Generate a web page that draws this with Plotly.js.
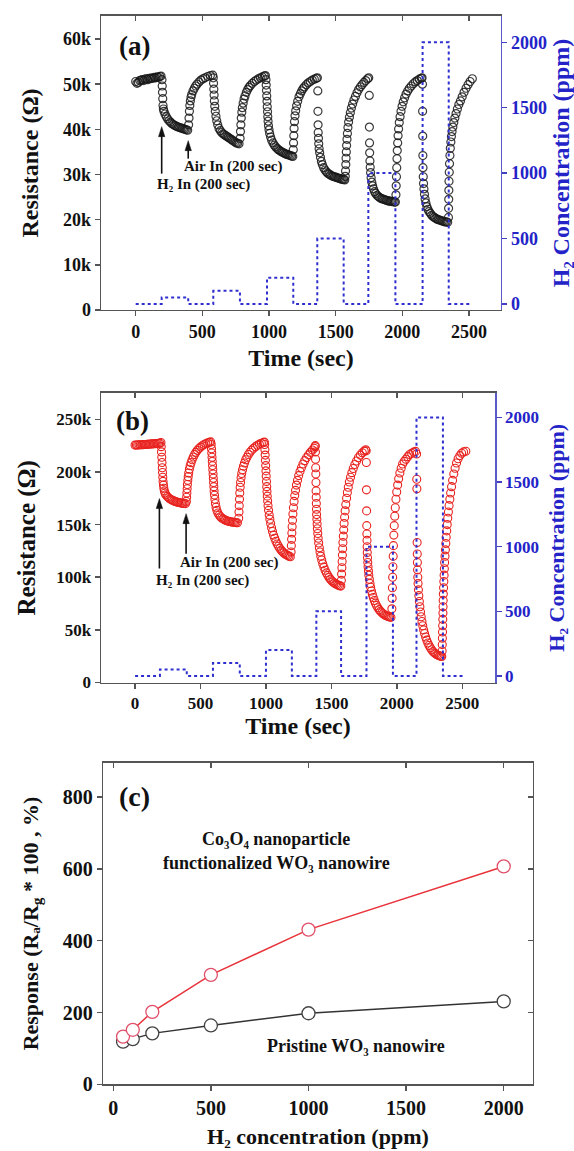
<!DOCTYPE html>
<html>
<head>
<meta charset="utf-8">
<script src="https://cdn.plot.ly/plotly-3.0.1.min.js"></script>
<style>html,body{margin:0;padding:0;background:#fff;}#chart{width:574px;height:1151px;}</style>
</head>
<body>
<div id="chart"></div>
<script>
// ---------- Panel (a): pristine WO3 nanowire, resistance (kOhm) vs time (s) ----------
const timeA = [
  0,10,20,30,40,50,60,70,80,90,100,110,120,130,140,150,160,170,180,190,
  197,199,201,203,205,208,212,220,230,240,250,260,270,280,290,300,310,320,330,340,350,360,370,380,390,
  397,400,403,406,410,415,420,430,440,450,460,475,490,505,520,540,560,578,
  582,584,586,588,590,593,597,602,608,615,625,635,645,655,665,675,685,695,705,715,725,735,745,755,765,775,
  783,786,789,792,796,800,806,813,820,830,840,850,860,875,890,905,920,935,950,965,973,
  977,979,981,983,985,987,989,991,993,996,1000,1005,1012,1020,1030,1040,1050,1060,1070,1080,1090,1100,1110,1120,1130,1140,1150,1160,1170,1178,
  1182,1184,1186,1188,1191,1195,1200,1207,1215,1225,1235,1245,1255,1265,1280,1295,1310,1325,1340,1355,1363,
  1366,1367,1368,1369,1371,1373,1376,1380,1386,1393,1400,1410,1420,1430,1440,1450,1460,1470,1480,1490,1500,1510,1520,1530,1540,1550,1560,1568,
  1572,1574,1576,1578,1580,1582,1585,1588,1592,1597,1603,1610,1618,1627,1637,1648,1660,1672,1685,1698,1712,1726,1740,1748,
  1752,1753,1754,1755,1757,1759,1762,1766,1771,1777,1784,1792,1800,1810,1820,1830,1840,1850,1860,1870,1880,1890,1900,1910,1920,1930,1940,1948,
  1952,1954,1956,1958,1960,1962,1965,1968,1972,1977,1983,1990,1998,2007,2017,2028,2040,2053,2067,2082,2097,2112,2127,2142,2148,
  2151,2152,2153,2154,2155,2157,2159,2162,2166,2171,2177,2184,2192,2200,2210,2220,2230,2240,2250,2260,2270,2280,2290,2300,2310,2320,2330,2340,
  2346,2347,2348,2349,2350,2352,2354,2357,2360,2364,2368,2373,2379,2386,2394,2403,2413,2424,2436,2449,2463,2478,2493,2508,2525
];
const resistA = [
  50.6,50.2,50.4,50.8,50.9,51.0,50.8,51.1,51.2,51.0,51.3,51.2,51.4,51.3,51.5,51.4,51.6,51.5,51.7,51.8,
  51.0,49.6,48.2,46.8,45.3,44.5,44.0,43.4,42.8,42.3,41.9,41.6,41.3,41.1,40.9,40.8,40.6,40.5,40.4,40.3,40.2,40.1,40.0,39.9,39.8,
  41.0,42.5,44.0,45.3,46.3,47.1,47.7,48.5,49.1,49.6,50.0,50.5,50.9,51.2,51.4,51.7,51.9,52.0,
  51.4,50.2,48.9,47.6,46.3,45.1,44.0,42.9,41.9,41.0,40.2,39.7,39.3,39.0,38.8,38.6,38.4,38.2,38.0,37.8,37.6,37.4,37.2,37.0,36.9,36.8,
  38.0,39.5,41.0,42.5,43.8,44.8,45.8,46.7,47.4,48.2,48.8,49.3,49.7,50.2,50.6,50.9,51.2,51.4,51.6,51.8,51.9,
  51.0,49.8,48.6,47.4,46.2,45.0,43.9,42.8,41.8,40.8,39.9,39.1,38.3,37.6,37.0,36.5,36.1,35.8,35.5,35.3,35.1,34.9,34.8,34.6,34.5,34.4,34.3,34.2,34.1,34.0,
  35.5,37.0,38.6,40.2,41.7,43.0,44.1,45.2,46.2,47.2,47.9,48.5,49.0,49.4,49.9,50.3,50.6,50.9,51.1,51.3,51.4,
  48.5,44.0,41.0,39.3,38.0,36.8,35.7,34.8,33.8,32.9,32.2,31.5,31.0,30.6,30.3,30.1,29.9,29.7,29.6,29.5,29.4,29.3,29.2,29.1,29.0,28.9,28.9,28.8,
  29.6,30.8,32.2,33.6,35.0,36.4,37.8,39.1,40.4,41.6,42.7,43.7,44.7,45.6,46.5,47.3,48.1,48.8,49.4,49.9,50.4,50.8,51.2,51.4,
  47.5,40.5,37.0,34.8,33.0,31.6,30.4,29.3,28.3,27.5,26.8,26.2,25.8,25.4,25.1,24.9,24.7,24.6,24.5,24.4,24.3,24.2,24.1,24.1,24.0,24.0,23.9,23.9,
  25.5,27.5,29.5,31.5,33.5,35.3,37.0,38.6,40.1,41.5,42.8,44.0,45.1,46.1,47.0,47.8,48.5,49.1,49.6,50.1,50.5,50.8,51.1,51.3,51.4,
  50.0,44.0,38.5,34.2,31.5,29.5,28.0,26.8,25.6,24.6,23.7,22.9,22.3,21.8,21.4,21.0,20.7,20.5,20.3,20.1,20.0,19.9,19.8,19.7,19.6,19.5,19.5,19.4,
  20.5,22.5,24.5,26.5,28.5,30.5,32.4,34.2,35.8,37.2,38.4,39.5,40.5,41.5,42.5,43.5,44.5,45.5,46.3,47.2,48.2,49.1,49.9,50.6,51.2
];
// H2 concentration steps (ppm), drawn with a horizontal-then-vertical step line
const stepTimeA = [0,195,394,582,782,985,1182,1362,1560,1745,1948,2152,2348,2505];
const stepConcA = [0,50,0,100,0,200,0,500,0,1000,0,2000,0,0];

// ---------- Panel (b): Co3O4-functionalized WO3 nanowire ----------
const timeB = [
  0,10,20,30,40,50,60,70,80,90,100,110,120,130,140,150,160,170,180,190,
  198,200,202,204,206,208,210,212,214,217,220,224,229,235,245,255,265,275,285,295,305,315,325,335,345,355,365,375,385,
  392,394,396,398,400,403,406,410,415,421,428,436,445,455,465,476,488,500,513,527,541,555,568,578,
  582,584,586,588,590,592,594,596,598,600,602,604,607,610,614,619,625,633,642,652,662,672,682,692,702,712,722,732,742,752,762,772,782,
  792,794,796,798,800,803,806,810,815,821,828,836,845,855,866,878,891,905,920,935,950,965,980,988,
  990,992,994,996,998,1000,1002,1004,1006,1008,1010,1013,1016,1020,1025,1030,1036,1043,1050,1058,1067,1076,1086,1096,1106,1116,1126,1136,1146,1156,1166,1176,1186,
  1192,1194,1196,1198,1200,1203,1206,1210,1215,1220,1226,1233,1241,1250,1260,1271,1283,1296,1310,1325,1340,1355,1368,1375,
  1377,1378,1379,1380,1381,1382,1383,1384,1385,1386,1387,1389,1391,1393,1396,1399,1403,1408,1413,1419,1426,1434,1443,1452,1462,1472,1482,1492,1502,1512,1522,1532,1542,1552,1562,1572,
  1576,1578,1580,1582,1584,1586,1588,1591,1594,1597,1601,1605,1610,1616,1622,1629,1637,1646,1656,1667,1679,1692,1706,1721,1736,1751,1762,
  1766,1767,1768,1769,1770,1771,1772,1773,1774,1776,1778,1780,1783,1786,1790,1795,1800,1806,1813,1820,1828,1836,1845,1855,1865,1875,1885,1895,1905,1915,1925,1935,1945,1955,
  1962,1964,1966,1968,1970,1972,1974,1977,1980,1984,1988,1993,1999,2006,2014,2023,2033,2044,2056,2069,2083,2098,2113,2128,2143,
  2151,2152,2153,2155,2156,2157,2158,2160,2162,2165,2168,2172,2176,2181,2186,2192,2198,2205,2212,2220,2228,2237,2246,2256,2266,2276,2286,2296,2306,2316,2326,2336,2343,
  2346,2347,2348,2349,2350,2351,2352,2353,2354,2355,2357,2359,2361,2363,2365,2368,2371,2374,2377,2381,2385,2389,2394,2399,2405,2411,2418,2426,2435,2445,2456,2468,2481,2495,2510,2527
];
const resistB = [
  225.5,225.6,225.6,225.7,225.8,225.8,225.9,226.0,226.1,226.2,226.3,226.4,226.5,226.6,226.7,226.8,226.9,227.0,227.1,227.2,
  228.0,224.0,219.0,214.0,209.0,204.0,199.5,195.0,191.0,187.5,184.5,182.0,180.0,178.3,176.8,175.6,174.6,173.8,173.1,172.5,172.0,171.6,171.2,170.9,170.6,170.4,170.2,170.0,169.9,
  172.0,176.0,180.0,184.0,188.0,192.0,195.5,199.0,202.5,205.8,208.8,211.6,214.2,216.6,218.6,220.5,222.2,223.6,224.9,226.0,226.9,227.6,228.1,228.5,
  226.0,222.0,218.0,214.0,210.0,206.0,202.0,198.0,194.0,190.0,186.0,182.0,178.0,174.0,170.0,166.5,163.5,161.0,159.0,157.5,156.3,155.4,154.7,154.1,153.6,153.2,152.9,152.6,152.4,152.2,152.0,151.9,151.8,
  156.0,162.0,168.0,174.0,180.0,185.5,190.0,194.5,198.5,202.0,205.5,208.5,211.5,214.0,216.5,218.7,220.7,222.5,224.0,225.3,226.4,227.3,228.0,228.3,
  226.0,221.0,216.0,211.0,206.0,201.0,196.0,191.0,186.0,181.5,177.0,172.5,168.0,163.5,159.0,155.0,151.0,147.0,143.5,140.0,137.0,134.2,131.6,129.4,127.4,125.7,124.3,123.1,122.1,121.3,120.6,120.0,119.5,
  124.0,130.0,136.0,142.0,148.0,154.0,160.0,166.0,172.0,177.5,182.5,187.5,192.0,196.5,200.5,204.0,207.5,210.7,213.6,216.2,218.6,220.8,222.5,224.0,
  225.0,219.0,212.0,204.0,198.0,190.0,182.0,176.0,170.0,164.5,159.5,155.0,150.5,146.0,141.5,137.0,132.5,128.0,124.0,120.0,116.3,112.8,109.6,106.7,104.1,101.8,99.8,98.1,96.7,95.5,94.5,93.7,93.0,92.5,92.0,91.6,
  97,103,109,115,121,127,133,139,145,151,157,163,169,175,180.5,185.5,190.5,195.0,199.3,203.3,207.0,210.4,213.4,216.0,218.2,219.8,221.0,
  220.0,209.0,183.0,163.0,149.0,141.0,135.0,129.0,123.5,118.5,114.0,110.0,106.0,102.0,98.0,94.0,90.5,87.0,83.7,80.7,77.9,75.4,73.1,71.0,69.2,67.7,66.4,65.3,64.4,63.7,63.1,62.6,62.2,61.9,
  70,80,90,100,110,120,130,140,149,158,166,174,181,187.5,193.5,199,203.5,207.5,210,212,214.5,216.5,217.8,218.8,219.5,
  217,193,184,133,122,114,107,100,94,88,82.5,77,72,67,62.5,58,54,50,46.5,43.3,40.3,37.6,35.2,33.0,31.1,29.5,28.2,27.2,26.4,25.8,25.3,25.0,24.8,
  30,36,42,48,54,60,66,72,78,84,90,96,102,108,114,120,126,132,138,144,150,156,162,168,174,180,186,192,198,203.5,208.5,212.5,215.5,217.8,219.0,219.6
];
const stepTimeB = [0,190,395,595,800,1000,1198,1385,1574,1768,1970,2150,2352,2505];
const stepConcB = [0,50,0,100,0,200,0,500,0,1000,0,2000,0,0];

// ---------- Panel (c): response vs H2 concentration ----------
const concC = [50, 100, 200, 500, 1000, 2000];
const responseCo3O4 = [133, 152, 202, 305, 431, 607];
const responsePristine = [119, 126, 142, 164, 198, 231];

// ---------- tick labels ----------
const timeTicks = [0, 500, 1000, 1500, 2000, 2500];
const resTicksA = [0, 10, 20, 30, 40, 50, 60];
const resTickTextA = ['0', '10k', '20k', '30k', '40k', '50k', '60k'];
const resTicksB = [0, 50, 100, 150, 200, 250];
const resTickTextB = ['0', '50k', '100k', '150k', '200k', '250k'];
const concTicks = [0, 500, 1000, 1500, 2000];
const respTicks = [0, 200, 400, 600, 800];

const FONT = 'Liberation Serif, Times New Roman, serif';
const BLACK = '#111111';
const BLUE = '#2323c8';
const AXC = '#555555';

function f(size, color) { return {family: FONT, size: size, color: color || BLACK, weight: 'bold'}; }

const baseAxis = {
  ticks: 'outside', ticklen: 5, tickwidth: 1.5, tickcolor: AXC,
  showline: true, linecolor: AXC, linewidth: 1.5,
  showgrid: false, zeroline: false
};
function topTicks(over, anchor, range, vals) {
  return {overlaying: over, side: 'top', anchor: anchor, range: range, tickvals: vals,
    ticks: 'inside', ticklen: 5, tickwidth: 1.5, tickcolor: AXC, showticklabels: false,
    showline: false, showgrid: false, zeroline: false};
}
// vertical arrow (shaft + head) pointing up at a data point, length in pixels
function arrowShapes(xr, yr, x, y, len) {
  return [
    {type: 'path', xref: xr, yref: yr, xsizemode: 'pixel', ysizemode: 'pixel', xanchor: x, yanchor: y,
     path: 'M0,-8 L0,-' + len, line: {color: BLACK, width: 1.6}},
    {type: 'path', xref: xr, yref: yr, xsizemode: 'pixel', ysizemode: 'pixel', xanchor: x, yanchor: y,
     path: 'M0,0 L-3.2,-10 L3.2,-10 Z', fillcolor: BLACK, line: {color: BLACK, width: 0.5}}
  ];
}
function label(px, py, text, size) {
  return {xref: 'paper', yref: 'paper', x: px / 574, y: 1 - py / 1151, xanchor: 'center', yanchor: 'middle',
    text: text, showarrow: false, font: f(size)};
}

const rangeXA = [-260, 2740], rangeXB = [-260, 2750], rangeXC = [-51, 2148];
const rangeYC = [0, 896];

const traces = [
  {x: timeA, y: resistA, xaxis: 'x', yaxis: 'y', mode: 'markers', type: 'scatter',
   marker: {symbol: 'circle-open', size: 8, color: 'rgba(25,25,25,0.85)', line: {width: 1.2}}, name: 'R (a)'},
  {x: stepTimeA, y: stepConcA, xaxis: 'x', yaxis: 'y2', mode: 'lines', type: 'scatter',
   line: {shape: 'hv', dash: 'dot', width: 2, color: '#2f2fd0'}, name: 'H2 (a)'},
  {x: timeB, y: resistB, xaxis: 'x2', yaxis: 'y3', mode: 'markers', type: 'scatter',
   marker: {symbol: 'circle-open', size: 8, color: '#e8231f', line: {width: 1.1}}, name: 'R (b)'},
  {x: stepTimeB, y: stepConcB, xaxis: 'x2', yaxis: 'y4', mode: 'lines', type: 'scatter',
   line: {shape: 'hv', dash: 'dot', width: 2, color: '#2f2fd0'}, name: 'H2 (b)'},
  {x: concC, y: responsePristine, xaxis: 'x3', yaxis: 'y5', mode: 'lines+markers', type: 'scatter',
   line: {color: '#333333', width: 1.5},
   marker: {symbol: 'circle', size: 13, color: '#ffffff', line: {color: '#444444', width: 1.3}}, name: 'Pristine'},
  {x: concC, y: responseCo3O4, xaxis: 'x3', yaxis: 'y5', mode: 'lines+markers', type: 'scatter',
   line: {color: '#e8333a', width: 1.5},
   marker: {symbol: 'circle', size: 13, color: '#ffffff', line: {color: '#e0506a', width: 1.3}}, name: 'Co3O4'},
  // empty helpers so the inward-tick overlay axes are drawn
  {x: [], y: [], xaxis: 'x4', yaxis: 'y', type: 'scatter', mode: 'markers'},
  {x: [], y: [], xaxis: 'x5', yaxis: 'y3', type: 'scatter', mode: 'markers'},
  {x: [], y: [], xaxis: 'x6', yaxis: 'y5', type: 'scatter', mode: 'markers'},
  {x: [], y: [], xaxis: 'x3', yaxis: 'y6', type: 'scatter', mode: 'markers'}
];

const layout = {
  width: 574, height: 1151, autosize: false,
  margin: {l: 0, r: 0, t: 0, b: 0},
  paper_bgcolor: '#ffffff', plot_bgcolor: '#ffffff',
  showlegend: false,
  font: f(16),
  // ----- panel (a)
  xaxis: Object.assign({}, baseAxis, {domain: [0.176, 0.8728], anchor: 'y', range: rangeXA,
    tickvals: timeTicks, tickfont: f(18), mirror: true,
    title: {text: 'Time (sec)', font: f(24), standoff: 8}}),
  yaxis: Object.assign({}, baseAxis, {domain: [0.7307, 0.9861], anchor: 'x', range: [0, 65.1],
    tickvals: resTicksA, ticktext: resTickTextA, tickfont: f(18),
    title: {text: 'Resistance (Ω)', font: f(24), standoff: 17}}),
  yaxis2: Object.assign({}, baseAxis, {overlaying: 'y', side: 'right', anchor: 'x', range: [-46, 2201],
    tickvals: [0, 500, 1000, 1500, 2000], tickfont: f(18, BLUE), tickcolor: '#4040c0', linecolor: '#5a5ac8',
    title: {text: 'H₂ Concentration (ppm)', font: f(24, BLUE), standoff: 6}}),
  xaxis4: topTicks('x', 'y', rangeXA, timeTicks),
  // ----- panel (b)
  xaxis2: Object.assign({}, baseAxis, {domain: [0.176, 0.8624], anchor: 'y3', range: rangeXB,
    tickvals: timeTicks, tickfont: f(17), mirror: true,
    title: {text: 'Time (sec)', font: f(24), standoff: 5}}),
  yaxis3: Object.assign({}, baseAxis, {domain: [0.4070, 0.6586], anchor: 'x2', range: [0, 275],
    tickvals: resTicksB, ticktext: resTickTextB, tickfont: f(17),
    title: {text: 'Resistance (Ω)', font: f(25), standoff: 13}}),
  yaxis4: Object.assign({}, baseAxis, {overlaying: 'y3', side: 'right', anchor: 'x2', range: [-51, 2189],
    tickvals: [0, 500, 1000, 1500, 2000], tickfont: f(17, BLUE), tickcolor: '#4040c0', linecolor: '#5a5ac8',
    title: {text: 'H₂ Concentration (ppm)', font: f(22, BLUE), standoff: 10}}),
  xaxis5: topTicks('x2', 'y3', rangeXB, timeTicks),
  // ----- panel (c)
  xaxis3: Object.assign({}, baseAxis, {domain: [0.1800, 0.9279], anchor: 'y5', range: rangeXC,
    tickvals: concTicks, tickfont: f(20), mirror: true,
    title: {text: 'H₂ concentration (ppm)', font: f(22), standoff: 10}}),
  yaxis5: Object.assign({}, baseAxis, {domain: [0.0579, 0.3374], anchor: 'x3', range: rangeYC,
    tickvals: respTicks, tickfont: f(20), mirror: true,
    title: {text: 'Response (Rₐ/R<span style="font-size:70%;baseline-shift:-25%">g</span> * 100 , %)', font: f(22), standoff: 18}}),
  xaxis6: topTicks('x3', 'y5', rangeXC, concTicks),
  yaxis6: {overlaying: 'y5', side: 'right', anchor: 'x3', range: rangeYC, tickvals: respTicks,
    ticks: 'inside', ticklen: 5, tickwidth: 1.5, tickcolor: AXC, showticklabels: false,
    showline: false, showgrid: false, zeroline: false},
  shapes: [].concat(
    arrowShapes('x', 'y', 195, 40.6, 47),
    arrowShapes('x', 'y', 394, 37.5, 18),
    arrowShapes('x2', 'y3', 186, 174.7, 70),
    arrowShapes('x2', 'y3', 390, 160.4, 40)
  ),
  annotations: [
    label(134, 46, '(a)', 27),
    label(233, 166, 'Air In (200 sec)', 15),
    label(203, 184, 'H₂ In (200 sec)', 15),
    label(132, 421, '(b)', 27),
    label(229, 563, 'Air In (200 sec)', 15),
    label(202, 580, 'H₂ In (200 sec)', 15),
    label(134, 796, '(c)', 28),
    label(276, 839, 'Co₃O₄ nanoparticle', 18),
    label(276, 863, 'functionalized WO₃ nanowire', 18),
    label(356, 1046, 'Pristine WO₃ nanowire', 18)
  ]
};

Plotly.newPlot('chart', traces, layout, {displayModeBar: false, staticPlot: true});
</script>
</body>
</html>
